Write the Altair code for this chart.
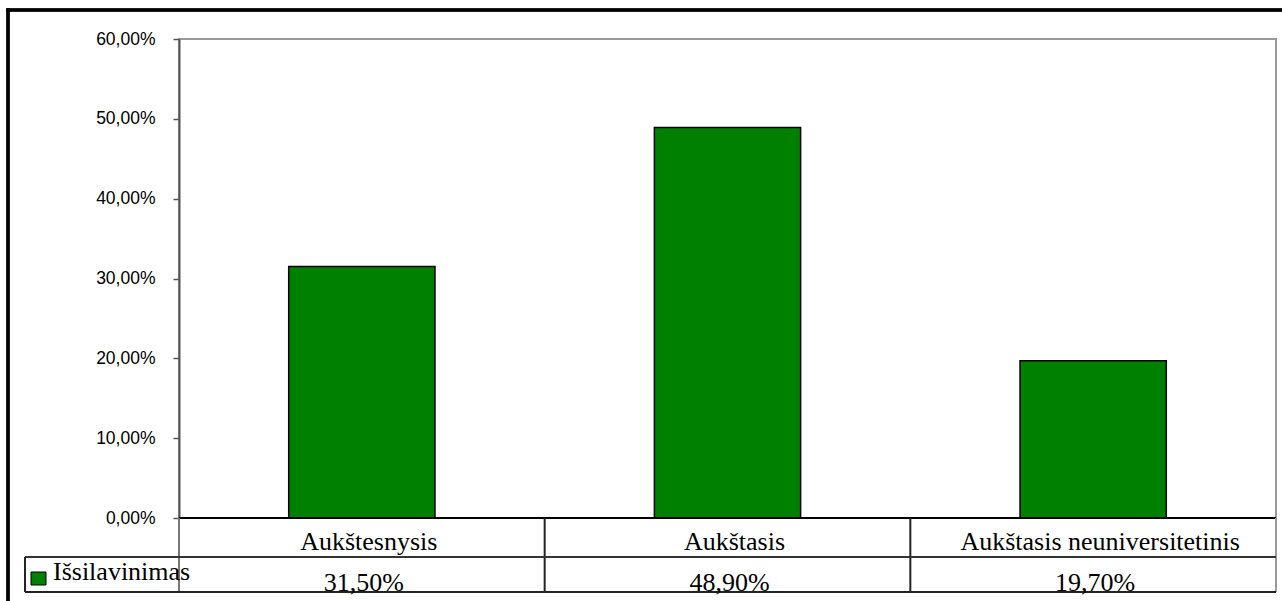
import altair as alt
import pandas as pd

# Education level shares
categories = ["Aukštesnysis", "Aukštasis", "Aukštasis neuniversitetinis"]
shares = [0.315, 0.489, 0.197]
series_name = "Išsilavinimas"

BAR_GREEN = "#008000"
SERIF = "Liberation Serif"
SANS = "Liberation Sans"

W, H = 1097, 479  # plot area
STEP = W / len(categories)  # one data-table column per category
PAD_OUTER = 0.3

df = pd.DataFrame({
    "cat": categories,
    "share": shares,
    "label": [f"{v * 100:.2f}%".replace(".", ",") for v in shares],
    "idx": list(range(len(categories))),
    "series": [series_name] * len(categories),
})

x_enc = alt.X("cat:N", sort=categories, axis=None,
              scale=alt.Scale(paddingInner=0.6, paddingOuter=PAD_OUTER))

base = alt.Chart(df)

bars = base.mark_bar(stroke="black", strokeWidth=1.5).encode(
    x=x_enc,
    y=alt.Y("share:Q",
            scale=alt.Scale(domain=[0, 0.6]),
            axis=alt.Axis(values=[0, 0.1, 0.2, 0.3, 0.4, 0.5, 0.6],
                          labelExpr="replace(format(datum.value, '.2%'), '.', ',')",
                          title=None, grid=False,
                          domainColor="#555555", domainWidth=2,
                          tickColor="#555555", tickWidth=1.5, tickSize=6,
                          labelFont=SANS, labelFontSize=17.5, labelColor="black",
                          labelPadding=18)),
    color=alt.Color("series:N", scale=alt.Scale(range=[BAR_GREEN]), legend=None),
)

# baseline at 0%
zero = alt.Chart(pd.DataFrame({"z": [0.0]})).mark_rule(
    color="black", strokeWidth=2).encode(y="z:Q")

# data table below the plot: column dividers sit at the start of each category's step
dividers = base.transform_filter("datum.idx > 0").mark_rule(
    color="#222222", strokeWidth=2).encode(
    x=alt.X("cat:N", sort=categories),
    xOffset=alt.value(-PAD_OUTER * STEP),
    y=alt.value(H), y2=alt.value(H + 74))

axis_ext = alt.Chart(df).mark_rule(color="#777777", strokeWidth=2).encode(
    x=alt.value(0), y=alt.value(H), y2=alt.value(H + 74))
right_ext = alt.Chart(df).mark_rule(color="#999999", strokeWidth=2).encode(
    x=alt.value(W), y=alt.value(H), y2=alt.value(H + 74))
row_line = alt.Chart(df).mark_rule(color="#333333", strokeWidth=1.5).encode(
    x=alt.value(-154), x2=alt.value(W), y=alt.value(H + 39))
bottom_line = alt.Chart(df).mark_rule(color="#222222", strokeWidth=2).encode(
    x=alt.value(-154), x2=alt.value(W), y=alt.value(H + 74))
key_left = alt.Chart(df).mark_rule(color="#222222", strokeWidth=1.5).encode(
    x=alt.value(-154), y=alt.value(H + 39), y2=alt.value(H + 74))

cat_text = base.mark_text(font=SERIF, fontSize=26, color="black",
                          baseline="alphabetic", dx=7).encode(
    x=alt.X("cat:N", sort=categories), y=alt.value(H + 32), text="cat:N")
val_text = base.mark_text(font=SERIF, fontSize=26, color="black",
                          baseline="alphabetic", dx=2).encode(
    x=alt.X("cat:N", sort=categories), y=alt.value(H + 73), text="label:N")

legend_df = pd.DataFrame({"series": [series_name]})
key_box = alt.Chart(legend_df).mark_rect(
    fill=BAR_GREEN, stroke="black", strokeWidth=1).encode(
    x=alt.value(-148), x2=alt.value(-133), y=alt.value(H + 54), y2=alt.value(H + 67))
key_text = alt.Chart(legend_df).mark_text(
    font=SERIF, fontSize=26, color="black", align="left",
    baseline="alphabetic").encode(
    x=alt.value(-126), y=alt.value(H + 62), text="series:N")

# outer chart frame
frame_left = alt.Chart(df).mark_rule(color="black", strokeWidth=3).encode(
    x=alt.value(-171), y=alt.value(-30.5), y2=alt.value(H + 90))
frame_top = alt.Chart(df).mark_rule(color="black", strokeWidth=3).encode(
    x=alt.value(-172.5), x2=alt.value(W + 20), y=alt.value(-29))

chart = alt.layer(
    bars, zero, axis_ext, right_ext, dividers, row_line, bottom_line, key_left,
    cat_text, val_text, key_box, key_text, frame_left, frame_top,
).properties(
    width=W, height=H,
    autosize=alt.AutoSizeParams(type="none"),
    padding={"left": 179, "top": 39, "right": 6, "bottom": 83},
    background="white",
).configure_view(stroke="#999999", strokeWidth=2)

chart.save("out.html", embed_options={"renderer": "svg", "actions": False})
